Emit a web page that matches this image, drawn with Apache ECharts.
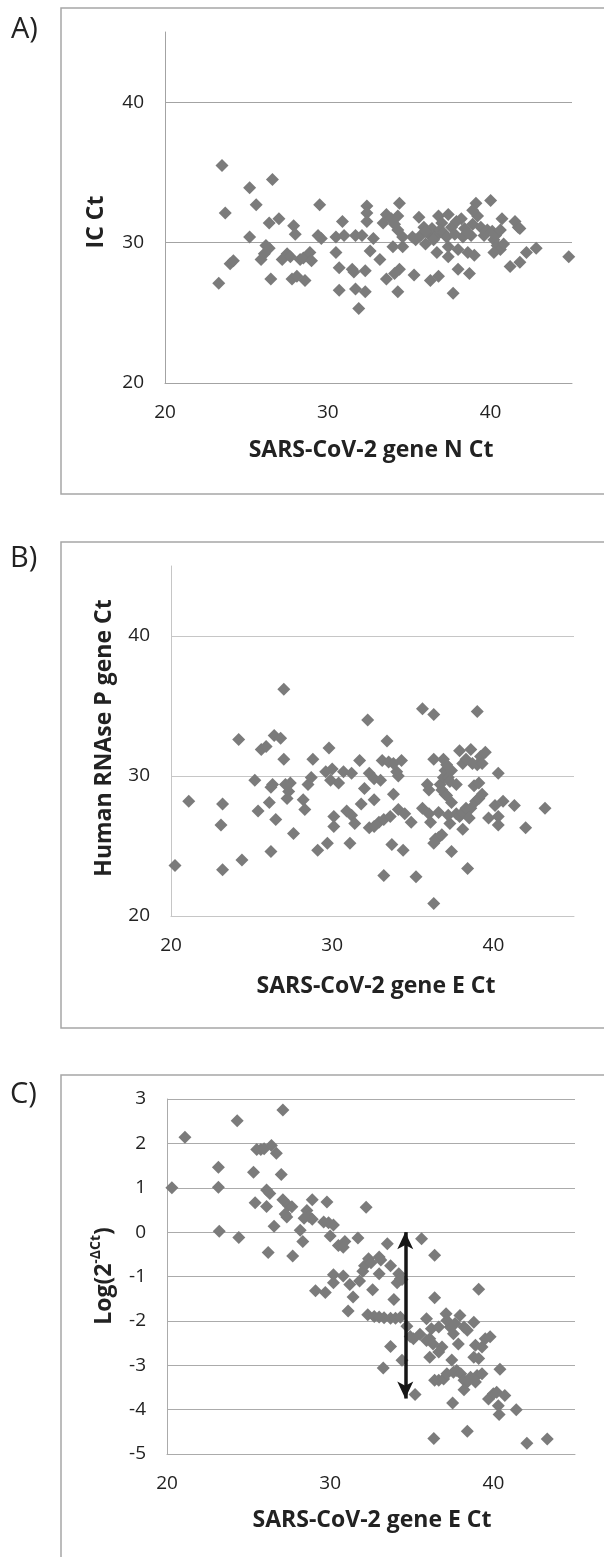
<!DOCTYPE html>
<html>
<head>
<meta charset="utf-8">
<script src="https://cdn.jsdelivr.net/npm/echarts@6/dist/echarts.min.js"></script>
<style>
html,body{margin:0;padding:0;background:#fff;}
#c{width:604px;height:1557px;}
</style>
</head>
<body>
<div id="c"></div>
<script>
// ---------- data ----------
const panelLabels = ['A)', 'B)', 'C)'];
const xTitles = ['SARS-CoV-2 gene N Ct', 'SARS-CoV-2 gene E Ct', 'SARS-CoV-2 gene E Ct'];
const yTitles = ['IC Ct', 'Human RNAse P gene Ct', '{b|Log(2}{s|-ΔCt}{b|)}'];
const xTicks = [20, 30, 40];
const yTicksA = [20, 30, 40];
const yTicksB = [20, 30, 40];
const yTicksC = [-5, -4, -3, -2, -1, 0, 1, 2, 3];

// Panel A: SARS-CoV-2 gene N Ct vs IC Ct
const dataA = [
[23.5,35.5],[23.7,32.1],[23.3,27.1],[24.0,28.5],[24.2,28.7],
[25.2,33.9],[25.6,32.7],[25.2,30.4],[26.6,34.5],[26.4,31.4],[27.0,31.7],
[26.2,29.8],[26.4,29.6],[26.1,29.2],[25.9,28.8],[26.5,27.4],
[27.9,31.2],[28.0,30.6],[27.5,29.2],[27.2,28.8],[27.7,29.0],
[28.3,28.8],[28.5,28.9],[28.9,29.3],[29.0,28.7],
[27.8,27.4],[28.1,27.6],[28.6,27.3],
[29.5,32.7],[29.4,30.5],[29.6,30.3],
[30.5,29.3],[30.5,30.4],[31.0,30.5],[30.9,31.5],[30.7,28.2],
[31.5,28.1],[31.6,27.9],[32.3,28.0],[30.7,26.6],[31.7,26.7],[32.3,26.5],[31.9,25.3],
[31.7,30.5],[32.1,30.5],[32.4,32.6],[32.4,32.1],[32.4,31.5],[32.6,29.4],[32.8,30.3],
[33.2,28.8],[33.6,32.0],[33.4,31.4],[33.9,31.7],[34.3,31.9],[34.4,32.8],
[34.1,31.3],[34.3,30.9],[34.6,30.4],[34.0,29.7],[34.6,29.7],
[34.4,28.1],[34.1,27.8],[33.6,27.4],[34.3,26.5],[35.3,27.7],
[35.6,31.8],[35.9,31.1],[36.0,29.9],[35.4,30.2],[35.7,30.5],[35.2,30.4],
[36.2,30.6],[36.4,31.0],[36.6,30.4],[36.8,31.9],[37.0,31.4],[36.5,30.2],[36.0,30.8],[36.9,30.9],[37.1,30.7],
[36.7,29.3],[36.3,27.3],[36.8,27.6],
[37.4,32.0],[37.6,31.1],[37.3,30.4],[37.4,29.7],[37.8,30.6],[37.4,29.0],[37.9,31.5],
[38.0,29.5],[38.2,31.7],[38.4,31.0],[38.0,28.1],[37.7,26.4],[38.3,30.4],[38.6,30.7],
[38.6,29.3],[39.0,29.1],[38.7,27.8],
[39.1,32.8],[39.2,31.9],[38.9,31.3],[39.4,31.1],[39.6,30.5],[38.8,30.5],[38.9,32.3],[39.8,30.9],
[40.0,33.0],[40.1,30.8],[40.2,30.2],[40.4,29.8],[40.6,29.5],[40.2,29.3],[40.8,29.9],[40.3,30.5],
[40.7,31.7],[40.6,30.9],[41.5,31.5],[41.7,31.1],[41.8,31.0],
[41.2,28.3],[41.8,28.6],[42.2,29.3],[42.8,29.6],[44.8,29.0]
];

// Panel B: SARS-CoV-2 gene E Ct vs Human RNAse P gene Ct
const dataB = [
[20.25,23.6],[21.1,28.2],[23.2,28.0],[23.1,26.5],[23.2,23.3],[24.2,32.6],[24.4,24.0],
[25.2,29.7],[25.4,27.5],[25.6,31.9],[25.9,32.1],[26.1,28.1],[26.2,29.2],[26.3,29.4],[26.2,24.6],[26.5,26.9],[26.4,32.9],[26.8,32.7],[27.0,36.2],[27.0,31.2],
[27.1,29.4],[27.4,29.5],[27.3,28.9],[27.2,28.4],[27.6,25.9],[28.2,28.3],[28.3,27.6],[28.5,29.4],[28.7,29.9],[28.8,31.2],[29.1,24.7],
[29.6,30.3],[29.8,32.0],[30.0,30.5],[29.9,29.7],[30.4,29.5],[30.1,27.1],[30.1,26.4],[29.7,25.2],
[30.7,30.3],[31.2,30.2],[30.9,27.5],[31.2,27.2],[31.4,26.6],[31.1,25.2],
[31.7,31.1],[31.8,28.0],[32.0,29.1],[32.3,30.2],[32.6,29.8],[33.0,29.7],[32.2,34.0],[32.6,28.3],
[32.3,26.3],[32.6,26.4],[32.9,26.7],[33.2,26.9],[33.6,27.1],
[33.4,32.5],[33.1,31.1],[33.5,31.0],[33.8,30.9],[34.3,31.1],[33.8,28.7],[34.0,30.3],[34.1,30.0],
[33.7,25.1],[33.2,22.9],[34.4,24.7],[34.1,27.6],[34.5,27.3],[34.9,26.7],[35.2,22.8],
[35.6,34.8],[36.3,34.4],[36.3,31.2],[35.9,29.4],[36.0,29.0],[35.6,27.7],[36.0,27.3],[36.1,26.7],[36.6,27.4],
[36.4,25.5],[36.6,25.6],[36.8,25.8],[36.3,25.2],[36.3,20.9],
[36.7,29.4],[36.9,29.9],[37.0,30.4],[37.1,30.8],[37.2,29.9],[36.8,29.0],[37.0,28.7],[37.3,29.6],[37.4,30.4],
[36.9,31.2],[37.1,28.6],[37.4,28.1],[37.3,26.6],[37.2,27.2],[37.4,24.6],
[37.7,29.4],[37.9,31.8],[38.1,30.9],[38.3,31.2],[38.6,31.9],[38.7,30.9],[39.0,30.8],[39.2,31.4],[39.5,31.7],[39.3,30.9],
[37.7,27.3],[37.9,27.1],[38.1,27.4],[38.3,27.7],[38.6,27.7],[38.9,28.2],[39.1,28.4],[39.3,28.7],[38.5,27.0],
[38.1,26.2],[38.4,23.4],[39.0,34.6],[38.8,29.3],[39.1,29.5],
[39.7,27.0],[40.1,27.9],[40.3,27.1],[40.6,28.2],[41.3,27.9],[40.3,26.5],[40.3,30.2],[42.0,26.3],[43.2,27.7]
];

// Panel C: SARS-CoV-2 gene E Ct vs Log(2^-dCt)
const dataC = [
[20.3,1.0],[21.1,2.14],[23.15,1.46],[23.15,1.01],[23.2,0.02],[24.3,2.51],[24.4,-0.12],
[25.3,1.35],[25.4,0.66],[25.5,1.86],[25.75,1.86],[25.95,1.88],[26.4,1.95],[26.7,1.78],
[26.1,0.95],[26.3,0.87],[26.1,0.58],[26.56,0.13],[26.2,-0.46],[27.0,1.3],[27.1,2.75],[27.1,0.73],
[27.44,0.6],[27.65,0.57],[27.34,0.34],[27.24,0.41],[27.7,-0.54],[28.16,0.04],[28.32,-0.21],
[28.57,0.49],[28.7,0.35],[28.9,0.29],[28.4,0.31],[28.9,0.73],[29.8,0.68],[29.6,0.23],[29.9,0.21],[30.2,0.16],[30.0,-0.09],
[30.2,-0.96],[30.8,-0.99],[30.2,-1.14],[30.5,-0.3],[30.9,-0.21],[30.8,-0.34],[29.1,-1.32],[29.7,-1.36],
[31.2,-1.18],[31.4,-1.46],[31.1,-1.78],[31.7,-0.13],[31.8,-1.1],[32.2,0.56],
[32.0,-0.88],[32.1,-0.76],[32.35,-0.6],[32.5,-0.69],[32.6,-1.3],[33.0,-0.94],[33.0,-0.56],[33.1,-0.63],
[33.5,-0.26],[33.7,-0.76],[33.9,-1.52],[34.2,-0.94],[34.3,-1.05],[34.1,-1.14],[34.4,-1.07],
[32.3,-1.86],[32.7,-1.9],[33.0,-1.91],[33.3,-1.93],[33.7,-1.94],[34.0,-1.94],[34.3,-1.92],
[34.7,-2.12],[34.9,-2.35],[35.1,-2.4],[33.7,-2.58],[34.4,-2.89],[33.25,-3.06],
[35.6,-0.15],[36.4,-0.52],[35.5,-2.3],[35.2,-3.66],[36.4,-1.48],
[35.9,-1.95],[36.2,-2.18],[36.1,-2.4],[35.9,-2.44],[36.3,-2.52],[36.1,-2.82],[36.65,-2.14],[36.85,-2.59],[36.65,-2.7],
[37.1,-1.84],[37.35,-2.14],[37.15,-1.99],[37.55,-2.29],[37.85,-2.52],[37.95,-1.88],[38.2,-2.14],[37.65,-2.06],[38.4,-2.21],[38.8,-2.03],
[37.45,-2.88],[38.8,-2.82],[39.1,-2.85],[39.3,-2.59],[39.5,-2.4],[39.8,-2.36],[38.9,-2.55],
[36.4,-3.34],[36.65,-3.34],[36.95,-3.31],[37.15,-3.19],[37.55,-3.16],[37.75,-3.12],[38.0,-3.19],[38.2,-3.34],[38.4,-3.38],[38.6,-3.27],[39.0,-3.23],[39.3,-3.19],
[37.5,-3.85],[38.2,-3.55],[38.9,-3.38],[39.1,-1.29],[40.4,-3.09],
[39.7,-3.76],[40.0,-3.64],[40.2,-3.61],[40.7,-3.68],[40.3,-3.91],[40.35,-4.11],[41.4,-4.0],
[36.35,-4.65],[38.4,-4.49],[42.05,-4.76],[43.3,-4.66]
];

// double-headed arrow in panel C (data coordinates)
const arrowC = { x: 34.6, top: 0, bottom: -3.75 };

// ---------- styling ----------
const FONT = '"Open Sans", "Liberation Sans", sans-serif';
const markerColor = '#7b7b7b';
const gridColor = ['#a3a3a3', '#c6c6c6', '#ababab'];
const boxColor = '#a6a6a6';
const textColor = '#222222';

const grids = [
  { left: 165, right: 32, top: 32, height: 351 },
  { left: 171, right: 30, top: 566, height: 350 },
  { left: 167, right: 29, top: 1099, height: 355 }
];

function xAxisFor(i) {
  return {
    gridIndex: i, type: 'value', min: 20, max: 45, interval: 10,
    axisLine: { show: true, onZero: false, lineStyle: { color: gridColor[i], width: 1 } },
    axisTick: { show: false },
    splitLine: { show: false },
    axisLabel: {
      color: textColor, fontFamily: FONT, fontSize: 19, margin: 20,
      formatter: v => xTicks.includes(v) ? String(v) : ''
    }
  };
}
function yAxisFor(i, min, max, interval, ticks, showMax) {
  return {
    gridIndex: i, type: 'value', min: min, max: max, interval: interval,
    axisLine: { show: true, onZero: false, lineStyle: { color: gridColor[i], width: 1 } },
    axisTick: { show: false },
    splitLine: { show: true, showMaxLine: showMax, lineStyle: { color: gridColor[i], width: 1 } },
    axisLabel: {
      color: textColor, fontFamily: FONT, fontSize: 19, margin: 21,
      formatter: v => ticks.includes(v) ? String(v) : ''
    }
  };
}

function scatter(i, data) {
  return {
    type: 'scatter', xAxisIndex: i, yAxisIndex: i, data: data,
    symbol: 'diamond', symbolSize: 13,
    itemStyle: { color: markerColor, opacity: 1 },
    silent: true, animation: false
  };
}

const seriesC = scatter(2, dataC);
seriesC.markLine = {
  silent: true, animation: false,
  symbol: ['arrow', 'arrow'], symbolSize: [12, 17],
  label: { show: false },
  lineStyle: { color: '#161616', width: 3.5, type: 'solid', opacity: 1 },
  emphasis: { disabled: true },
  data: [[{ coord: [arrowC.x, arrowC.top] }, { coord: [arrowC.x, arrowC.bottom] }]]
};

const boxes = [
  { x: 61, y: 8, h: 486 },
  { x: 61, y: 542, h: 486 },
  { x: 61, y: 1075, h: 600 }
];
const labelPos = [[11, 30], [10, 559], [10, 1095]];
const xTitlePos = [[371, 450], [376, 986], [372, 1520]];
const yTitlePos = [[96, 222], [104, 738], [104, 1276]];

const graphics = [];
boxes.forEach(b => graphics.push({
  type: 'rect', silent: true, z: -10,
  shape: { x: b.x, y: b.y, width: 600, height: b.h },
  style: { fill: 'none', stroke: boxColor, lineWidth: 1.5 }
}));
panelLabels.forEach((t, i) => graphics.push({
  type: 'text', silent: true, x: labelPos[i][0], y: labelPos[i][1],
  style: { text: t, fontFamily: FONT, fontSize: 29, fill: textColor, align: 'left', verticalAlign: 'middle' }
}));
xTitles.forEach((t, i) => graphics.push({
  type: 'text', silent: true, x: xTitlePos[i][0], y: xTitlePos[i][1],
  style: { text: t, fontFamily: FONT, fontSize: 23, fontWeight: 'bold', fill: textColor, align: 'center', verticalAlign: 'middle' }
}));
yTitles.forEach((t, i) => graphics.push({
  type: 'text', silent: true, x: yTitlePos[i][0], y: yTitlePos[i][1], rotation: Math.PI / 2,
  style: {
    text: t, fontFamily: FONT, fontSize: 23, fontWeight: 'bold', fill: textColor, align: 'center', verticalAlign: 'middle',
    rich: {
      b: { fontFamily: FONT, fontSize: 23, fontWeight: 'bold', fill: textColor, lineHeight: 30 },
      s: { fontFamily: FONT, fontSize: 14, fontWeight: 'bold', fill: textColor, verticalAlign: 'top', lineHeight: 30 }
    }
  }
}));

const chart = echarts.init(document.getElementById('c'), null, { renderer: 'canvas' });
chart.setOption({
  animation: false,
  backgroundColor: '#ffffff',
  grid: grids,
  xAxis: [xAxisFor(0), xAxisFor(1), xAxisFor(2)],
  yAxis: [
    yAxisFor(0, 20, 45, 10, yTicksA, false),
    yAxisFor(1, 20, 45, 10, yTicksB, false),
    yAxisFor(2, -5, 3, 1, yTicksC, true)
  ],
  series: [scatter(0, dataA), scatter(1, dataB), seriesC],
  graphic: graphics
});
</script>
</body>
</html>
